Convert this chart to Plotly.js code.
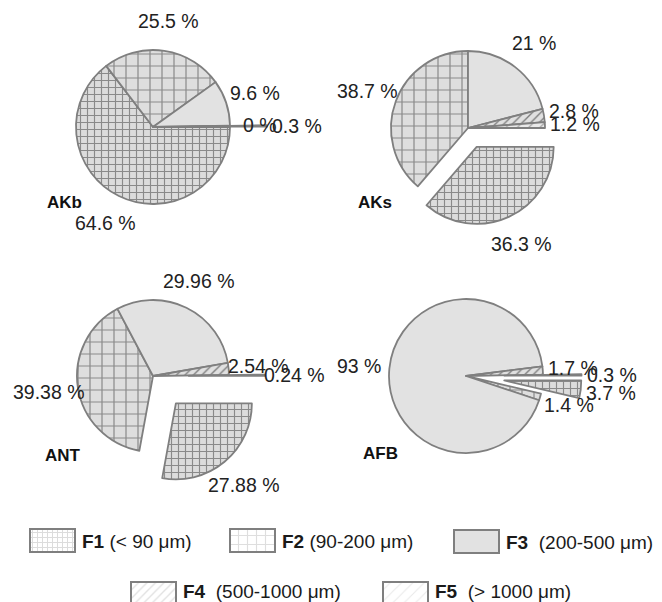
<!DOCTYPE html>
<html><head><meta charset="utf-8">
<script src="https://cdn.plot.ly/plotly-3.0.1.min.js"></script>
<style>html,body{margin:0;padding:0;background:#fff}</style>
</head><body><div id="chart" style="width:662px;height:602px"></div>
<script>
// ---- data ----
const fractions = ['F1', 'F2', 'F3', 'F4', 'F5'];
const fractionRanges = ['(&lt; 90 μm)', '(90-200 μm)', '&nbsp;(200-500 μm)', '&nbsp;(500-1000 μm)', '&nbsp;(&gt; 1000 μm)'];
const sampleNames = ['AKb', 'AKs', 'ANT', 'AFB'];
const valuesAKb = [64.6, 25.5, 9.6, 0, 0.3];
const valuesAKs = [36.3, 38.7, 21, 2.8, 1.2];
const valuesANT = [27.88, 39.38, 29.96, 2.54, 0.24];
const valuesAFB = [3.7, 1.4, 93, 1.7, 0.3];

// ---- style ----
const pullAKb = [0, 0, 0, 0, 0.48];
const pullAKs = [0.27, 0, 0, 0, 0];
const pullANT = [0.47, 0, 0, 0, 0.47];
const pullAFB = [0.5, 0, 0, 0, 0.5];

const W = 662, H = 602;
const FONT = 'Liberation Sans, Arial, sans-serif';
const lineCol = '#7f7f7f';
const bgCols = ['#dcdcdc', '#dedede', '#e2e2e2', '#e0e0e0', '#eaeaea'];
const patShape = ['+', '+', '', '/', '/'];
const patSize = [7, 12, 8, 6, 8];
const patSolid = [0.3, 0.19, 0.3, 0.22, 0.14];
const patFg = ['#8a8a8a', '#8a8a8a', '#8a8a8a', '#7a7a7a', '#969696'];
const LABEL_DIST = 1.39;   // label centre distance, in radii, beyond pull

const pieGeom = [
  {cx: 153, cy: 127, r: 77},
  {cx: 468, cy: 128, r: 77},
  {cx: 153, cy: 376, r: 76},
  {cx: 466, cy: 376, r: 77}
];
const titlePos = [
  {x: 45, y: 203}, {x: 356, y: 202}, {x: 43, y: 455}, {x: 361, y: 453}
];

function domainFor(g, pulls) {
  const s = g.r * (1 + Math.max(...pulls));
  return {x: [(g.cx - s) / W, (g.cx + s) / W], y: [1 - (g.cy + s) / H, 1 - (g.cy - s) / H]};
}

const allValues = [valuesAKb, valuesAKs, valuesANT, valuesAFB];
const allPulls = [pullAKb, pullAKs, pullANT, pullAFB];

const traces = allValues.map((vals, i) => ({
  type: 'pie',
  name: sampleNames[i],
  labels: fractions,
  values: vals,
  sort: false,
  direction: 'clockwise',
  rotation: 90,
  pull: allPulls[i],
  domain: domainFor(pieGeom[i], allPulls[i]),
  textinfo: 'none',
  showlegend: false,
  hoverinfo: 'label+value',
  marker: {
    colors: bgCols,
    line: {color: lineCol, width: 1.8},
    pattern: {shape: patShape, size: patSize, solidity: patSolid, fgcolor: patFg, bgcolor: bgCols, fillmode: 'replace'}
  }
}));

// legend swatches (layout positions in pixel space)
const legendBox = [
  {x: 30, y: 529}, {x: 230, y: 529}, {x: 454, y: 530}, {x: 131, y: 582}, {x: 383, y: 582}
];
const boxW = 45, boxH = 23;
traces.push({
  type: 'bar',
  x: legendBox.map(b => b.x + boxW / 2),
  y: legendBox.map(() => boxH),
  base: legendBox.map(b => b.y),
  width: legendBox.map(() => boxW),
  xaxis: 'x', yaxis: 'y',
  showlegend: false,
  hoverinfo: 'skip',
  marker: {
    color: bgCols,
    line: {color: lineCol, width: 2},
    pattern: {shape: patShape, size: [5, 9, 8, 6, 8], solidity: [0.36, 0.24, 0.3, 0.22, 0.14], fgcolor: patFg, bgcolor: bgCols, fillmode: 'replace'}
  }
});

const annotations = [];
// slice value labels, placed along each slice's mid-angle
allValues.forEach((vals, i) => {
  const g = pieGeom[i], pulls = allPulls[i];
  const total = vals.reduce((a, b) => a + b, 0);
  let cum = 0;
  vals.forEach((v, j) => {
    const mid = (cum + v / 2) / total * 2 * Math.PI;
    cum += v;
    const d = g.r * (LABEL_DIST + pulls[j]);
    const px = g.cx + d * Math.cos(mid), py = g.cy + d * Math.sin(mid);
    annotations.push({
      xref: 'paper', yref: 'paper', x: px / W, y: 1 - py / H,
      xanchor: 'center', yanchor: 'middle', showarrow: false,
      text: String(v) + ' %', font: {family: FONT, size: 19.5, color: '#222'}
    });
  });
});
sampleNames.forEach((n, i) => annotations.push({
  xref: 'paper', yref: 'paper', x: titlePos[i].x / W, y: 1 - titlePos[i].y / H,
  xanchor: 'left', yanchor: 'middle', showarrow: false,
  text: '<b>' + n + '</b>', font: {family: FONT, size: 17, color: '#111'}
}));
fractions.forEach((f, i) => annotations.push({
  xref: 'paper', yref: 'paper', x: (legendBox[i].x + boxW + 5) / W, y: 1 - (legendBox[i].y + (i < 3 ? 12 : 9)) / H,
  xanchor: 'left', yanchor: 'middle', showarrow: false,
  text: '<b>' + f + '</b> ' + fractionRanges[i], font: {family: FONT, size: 19, color: '#1a1a1a'}
}));

const layout = {
  width: W, height: H,
  margin: {l: 0, r: 0, t: 0, b: 0},
  paper_bgcolor: '#fff', plot_bgcolor: 'rgba(0,0,0,0)',
  showlegend: false,
  xaxis: {range: [0, W], domain: [0, 1], visible: false, fixedrange: true},
  yaxis: {range: [H, 0], domain: [0, 1], visible: false, fixedrange: true},
  annotations: annotations,
  font: {family: FONT}
};

Plotly.newPlot('chart', traces, layout, {displayModeBar: false, staticPlot: true});
</script></body></html>
